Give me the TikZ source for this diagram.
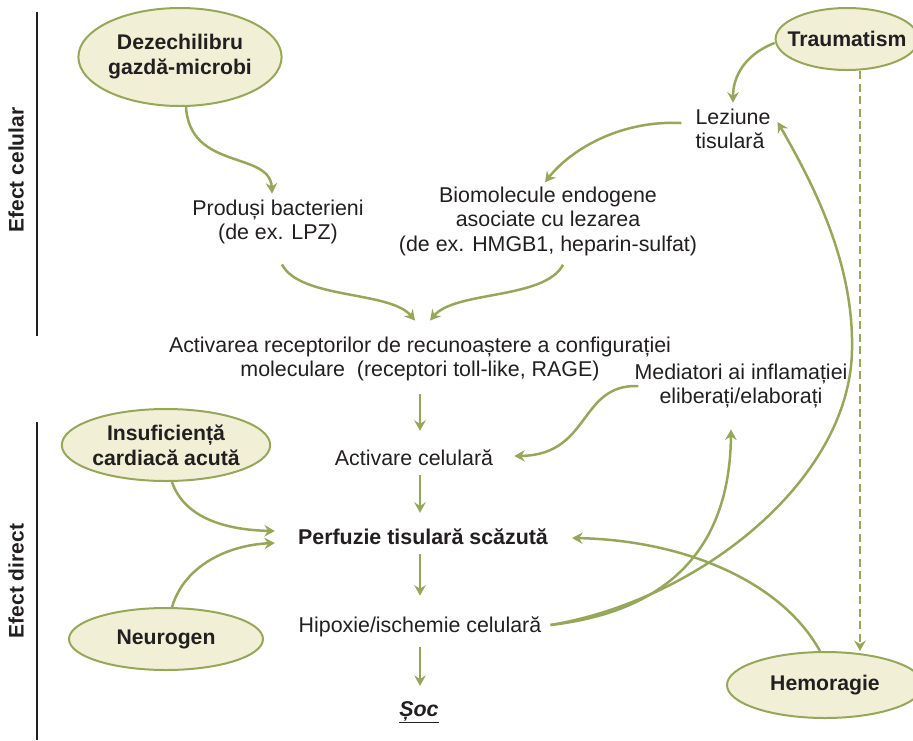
\documentclass[tikz,border=0pt]{standalone}
\usepackage{fontspec}
\setmainfont{Liberation Sans}
\usepackage{tikz}
\usetikzlibrary{arrows.meta,positioning,calc,shapes.geometric}
\definecolor{ink}{RGB}{35,31,32}
\definecolor{leaf}{RGB}{150,167,90}
\definecolor{cream}{RGB}{241,240,215}

\begin{document}
\begin{tikzpicture}[
  x=1pt, y=-1pt,
  font=\fontsize{21.4}{24.5}\selectfont,
  cause/.style={ellipse, draw=leaf, line width=2pt, fill=cream, inner sep=0pt, align=center, text=ink, font=\fontsize{21.2}{25}\selectfont\bfseries},
  stage/.style={align=center, inner sep=2pt, text=ink},
  side/.style={rotate=90, text=ink, font=\fontsize{21}{24}\selectfont\bfseries},
  arrow/.style={-{Stealth[length=10.5pt, width=11.5pt, inset=3.5pt]}, line width=2.5pt, draw=leaf},
  dasharrow/.style={arrow, dash pattern=on 8pt off 4.5pt}
]
\useasboundingbox (0,0) rectangle (913,740);
\draw[line width=2pt, ink] (37,12) -- (37,336);
\draw[line width=2pt, ink] (37,422) -- (37,740);
\node[side] (cel) at (16,170) {Efect celular};
\node[side] (dir) at (16,581) {Efect direct};

\node[cause, minimum width=196pt, minimum height=98pt] (dez) at (180,57) {Dezechilibru\\gazdă-microbi};
\node[cause, inner xsep=-9pt, minimum width=142pt, minimum height=62pt] (trauma) at (847,39) {Traumatism};
\node[cause, minimum width=204pt, minimum height=72pt] (insuf) at (166,445) {Insuficiență\\cardiacă acută};
\node[cause, minimum width=194pt, minimum height=62pt] (neuro) at (166,639) {Neurogen};
\node[cause, minimum width=196pt, minimum height=66pt] (hemo) at (825,685) {Hemoragie};

\node[stage] (prod) at (278,222) {Produși bacterieni\\(de ex. LPZ)};
\node[stage] (bio) at (548,221) {Biomolecule endogene\\asociate cu lezarea\\(de ex. HMGB1, heparin-sulfat)};
\node[stage, align=left] (lez) at (733,129) {Leziune\\tisulară};
\node[stage] (act) at (420,359) {Activarea receptorilor de recunoaștere a configurației\\moleculare\ \ (receptori toll-like, RAGE)};
\node[stage] (med) at (741,386) {Mediatori ai inflamației\\eliberați/elaborați};
\node[stage] (actcel) at (414,458) {Activare celulară};
\node[stage, font=\fontsize{21.4}{24.5}\selectfont\bfseries] (perf) at (423,537) {Perfuzie tisulară scăzută};
\node[stage] (hip) at (420,627) {Hipoxie/ischemie celulară};
\node[stage] (soc) at (419,712) {\underline{\textbf{\textit{Șoc}}}};

\coordinate (bend) at (852,350);
\coordinate (dtop) at ([xshift=13pt]trauma.south);

\draw[arrow] ([xshift=6pt]dez.south) .. controls +(4,64) and +(-2,-43) .. ([xshift=-6pt,yshift=4pt]prod.north);
\draw[arrow] ([yshift=-4pt]trauma.west) .. controls +(-31,12) and +(0,-25) .. ([yshift=4pt]lez.north);
\draw[arrow] ([xshift=-12pt,yshift=6pt]lez.west) .. controls +(-62,-3) and +(25,-32) .. ([xshift=-3pt,yshift=2pt]bio.north);
\draw[arrow] ([xshift=4pt,yshift=-18pt]prod.south) .. controls +(18,35) and +(-25,-30) .. ([xshift=-5pt,yshift=14pt]act.north);
\draw[arrow] ([xshift=15pt,yshift=-7pt]bio.south) .. controls +(-18,35) and +(25,-30) .. ([xshift=10pt,yshift=14pt]act.north);
\draw[arrow, shorten <=11pt, shorten >=17pt] (act.south -| hip) -- (actcel.north -| hip);
\draw[arrow, shorten <=7pt, shorten >=14pt] (actcel.south -| hip) -- (perf.north -| hip);
\draw[arrow, shorten <=7pt, shorten >=19pt] (perf.south -| hip) -- (hip.north);
\draw[arrow, shorten <=8pt, shorten >=13pt] (hip.south) -- (soc.north -| hip);
\draw[arrow] ([xshift=6pt]med.west) .. controls +(-60,-2) and +(77,-1) .. ([xshift=19pt,yshift=2pt]actcel.east);
\draw[arrow] ([xshift=6pt]insuf.south) .. controls +(13,38) and +(-45,-1) .. ([xshift=-21pt,yshift=6pt]perf.west);
\draw[arrow] ([xshift=6pt]neuro.north) .. controls +(13,-43) and +(-45,2) .. ([xshift=-21pt,yshift=-6pt]perf.west);
\draw[arrow] ([xshift=7pt,yshift=2pt]hip.east) .. controls +(129,-15) and +(-1,108) .. ([xshift=-10pt,yshift=-19pt]med.south);
\draw[arrow] ([xshift=7pt,yshift=2pt]hip.east) .. controls +(149,-25) and +(-2,130) .. (bend) .. controls +(2,-90) and +(33,58) .. ([xshift=5pt,yshift=7pt]lez.east);
\draw[arrow] ([xshift=-5pt]hemo.north) .. controls +(-40,-72) and +(108,2) .. ([xshift=22pt,yshift=-1pt]perf.east);
\draw[dasharrow] (dtop) -- (dtop |- hemo.north);
\end{tikzpicture}
\end{document}
